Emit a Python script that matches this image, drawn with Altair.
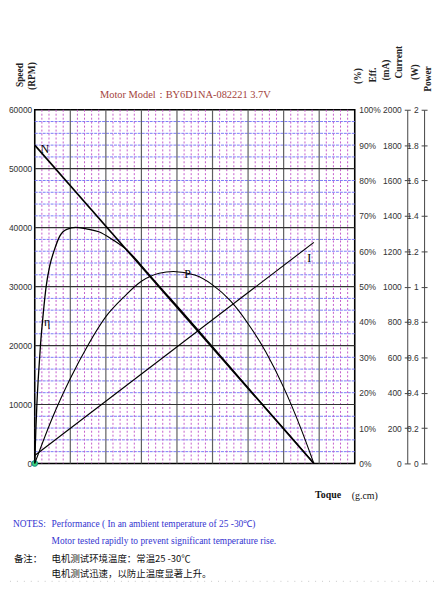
import altair as alt
import pandas as pd

# ---------------- values ----------------
speed_torque = [0.0, 7.85]
speed_rpm = [54000, 0]

eff_torque = [0, 0.03, 0.06, 0.1, 0.16, 0.24, 0.32, 0.42, 0.55, 0.7, 0.9, 1.15, 1.45, 1.8,
              2.2, 2.6, 2.95, 3.25, 3.6, 4.0, 4.5, 5.0, 5.5, 6.0, 6.5, 7.0, 7.5, 7.85]
eff_pct = [0, 9.2, 16.7, 24.2, 33.3, 42.5, 50.0, 55.8, 60.3, 64.2, 66.2, 66.75, 66.3, 65.5,
           63.2, 60.3, 56.5, 53.0, 49.0, 44.5, 38.8, 33.0, 27.2, 21.4, 15.6, 9.9, 4.1, 0]

power_torque = [0, 0.5, 1, 1.5, 2, 2.5, 3, 3.5, 3.9, 4.5, 5, 5.5, 6, 6.5, 7, 7.5, 7.85]
power_w = [0, 0.26, 0.48, 0.67, 0.83, 0.94, 1.03, 1.075, 1.085, 1.065, 1.01, 0.92, 0.79,
           0.63, 0.43, 0.19, 0]

current_torque = [0.0, 7.85]
current_ma = [45, 1250]

x_ticks = [0, 1, 2, 3, 4, 5, 6, 7, 8, 9]
rpm_ticks = [0, 10000, 20000, 30000, 40000, 50000, 60000]
pct_ticks = [0, 10, 20, 30, 40, 50, 60, 70, 80, 90, 100]
ma_ticks = [0, 200, 400, 600, 800, 1000, 1200, 1400, 1600, 1800, 2000]
w_ticks = [0, 0.2, 0.4, 0.6, 0.8, 1, 1.2, 1.4, 1.6, 1.8, 2]

grid_x_major = [1, 2, 3, 4, 5, 6, 7, 8]
grid_x_minor = [round(0.2 * k, 1) for k in range(1, 45) if k % 5 != 0]
grid_y_major = [10000, 20000, 30000, 40000, 50000]
grid_y_minor = [2000 * k for k in range(1, 30) if k % 5 != 0]

label_n = ("N", 0.28, 53400)
label_eta = ("η", 0.35, 40.1)
label_p = ("P", 4.3, 1.07)
label_i = ("I", 7.72, 1160)

title_text = "Motor Model：BY6D1NA-082221  3.7V"
notes_en = ["Performance ( In an ambient temperature of 25 -30℃)",
            "Motor tested rapidly to prevent significant temperature rise."]
notes_cn = ["电机测试环境温度：常温25 -30℃", "电机测试迅速，以防止温度显著上升。"]

# ---------------- styling ----------------
SANS = "Liberation Sans, Arial, sans-serif"
SERIF = "Liberation Serif, Times New Roman, serif"
CJK = "Noto Sans CJK SC"

X = alt.Scale(domain=[0, 9], nice=False, zero=False)
Y_RPM = alt.Scale(domain=[0, 60000], nice=False)
Y_PCT = alt.Scale(domain=[0, 100], nice=False)
Y_MA = alt.Scale(domain=[0, 2000], nice=False)
Y_W = alt.Scale(domain=[0, 2], nice=False)

common = dict(grid=False, title=None, labelFont=SANS, labelFontSize=8.5,
              labelColor="#333", labelFlush=False, labelOverlap=False)

x_noaxis = alt.X("t:Q", scale=X, axis=None)


def y_noaxis(scale):
    return alt.Y("v:Q", scale=scale, axis=None)


# ---------------- grid ----------------
h_minor = alt.Chart(pd.DataFrame({"v": grid_y_minor})).mark_rule(
    color="#7b7bf8", strokeWidth=1, strokeDash=[3, 1]
).encode(y=y_noaxis(Y_RPM))

v_minor = alt.Chart(pd.DataFrame({"t": grid_x_minor})).mark_rule(
    color="#c55ccb", strokeWidth=1, strokeDash=[2, 2]
).encode(x=x_noaxis)

v_major = alt.Chart(pd.DataFrame({"t": grid_x_major})).mark_rule(
    color="#5f5f5f", strokeWidth=1.2
).encode(x=x_noaxis)

h_major = alt.Chart(pd.DataFrame({"v": grid_y_major})).mark_rule(
    color="#333333", strokeWidth=1.2
).encode(y=y_noaxis(Y_RPM))

# ---------------- speed ----------------
speed_line = alt.Chart(pd.DataFrame({"t": speed_torque, "v": speed_rpm})).mark_line(
    color="black", strokeWidth=1.6
).encode(
    x=alt.X("t:Q", scale=X, axis=alt.Axis(values=x_ticks, ticks=False, domain=False,
                                           labelPadding=6, **common)),
    y=alt.Y("v:Q", scale=Y_RPM, axis=alt.Axis(orient="left", values=rpm_ticks, format="d",
                                               ticks=False, domain=False, labelPadding=3,
                                               **common)),
)


def curve_label(lab, scale):
    return alt.Chart(pd.DataFrame({"t": [lab[1]], "v": [lab[2]], "s": [lab[0]]})).mark_text(
        font=SERIF, fontSize=12, color="black"
    ).encode(x=x_noaxis, y=y_noaxis(scale), text="s:N")


n_text = curve_label(label_n, Y_RPM)

origin = alt.Chart(pd.DataFrame({"t": [0.0], "v": [0]})).mark_circle(
    size=34, color="#3ad17a", stroke="#178a8a", strokeWidth=1, opacity=1
).encode(x=x_noaxis, y=y_noaxis(Y_RPM))

# ---------------- efficiency ----------------
eff_line = alt.Chart(pd.DataFrame({"t": eff_torque, "v": eff_pct})).mark_line(
    color="black", strokeWidth=1.3, interpolate="monotone"
).encode(
    x=x_noaxis,
    y=alt.Y("v:Q", scale=Y_PCT, axis=alt.Axis(orient="right", values=pct_ticks,
                                               labelExpr="datum.value + '%'", ticks=False,
                                               domain=False, labelPadding=4, **common)),
)
eta_text = curve_label(label_eta, Y_PCT)

# ---------------- current ----------------
cur_line = alt.Chart(pd.DataFrame({"t": current_torque, "v": current_ma})).mark_line(
    color="black", strokeWidth=1.1
).encode(
    x=x_noaxis,
    y=alt.Y("v:Q", scale=Y_MA, axis=alt.Axis(orient="right", offset=53, values=ma_ticks,
                                              format="d", tickSize=3, tickColor="#444",
                                              domain=True, domainColor="#444",
                                              labelAlign="right", labelPadding=-9, **common)),
)
i_text = curve_label(label_i, Y_MA)

# ---------------- power ----------------
pow_line = alt.Chart(pd.DataFrame({"t": power_torque, "v": power_w})).mark_line(
    color="black", strokeWidth=1.1, interpolate="monotone"
).encode(
    x=x_noaxis,
    y=alt.Y("v:Q", scale=Y_W, axis=alt.Axis(orient="right", offset=70, values=w_ticks,
                                             format="~g", tickSize=3, tickColor="#444",
                                             domain=True, domainColor="#444",
                                             labelAlign="right", labelPadding=-9, **common)),
)
p_text = curve_label(label_p, Y_W)

# ---------------- tick stubs on the other side of the right axes ----------------
ma_stub = alt.Chart(pd.DataFrame({"v": [0, 2000]})).mark_point(opacity=0).encode(
    y=alt.Y("v:Q", scale=Y_MA, axis=alt.Axis(orient="left", offset=-376, values=ma_ticks,
                                              labels=False, tickSize=3, tickColor="#444",
                                              domain=False, grid=False, title=None)))
w_stub = alt.Chart(pd.DataFrame({"v": [0, 2]})).mark_point(opacity=0).encode(
    y=alt.Y("v:Q", scale=Y_W, axis=alt.Axis(orient="left", offset=-393, values=w_ticks,
                                             labels=False, tickSize=3, tickColor="#444",
                                             domain=False, grid=False, title=None)))

# ---------------- annotation texts ----------------
one = pd.DataFrame({"a": [0]})


def txt(s, x, y, **kw):
    return alt.Chart(one).mark_text(text=s, **kw).encode(x=alt.value(x), y=alt.value(y))


axis_title_style = dict(font=SERIF, fontSize=9.5, fontWeight="bold", color="#222",
                        angle=270, align="center", baseline="middle")

annotations = [
    txt(title_text, 152, -15, font=SERIF, fontSize=10.5, color="#a3423c",
        align="center", baseline="middle"),
    txt("Speed", -15, -35, **axis_title_style),
    txt("(RPM)", -3, -34, **axis_title_style),
    txt("(%)", 326, -34, **axis_title_style),
    txt("Eff.", 341, -35, **axis_title_style),
    txt("(mA)", 355, -40, **axis_title_style),
    txt("Current", 368, -48, **axis_title_style),
    txt("(W)", 384, -38, **axis_title_style),
    txt("Power", 397, -31, **axis_title_style),
    txt("Toque", 283, 389, font=SERIF, fontSize=10, fontWeight="bold", color="#111",
        align="left", baseline="middle"),
    txt("(g.cm)", 320, 390, font=SERIF, fontSize=10, color="#111",
        align="left", baseline="middle"),
    txt("NOTES:", -22, 418, font=SERIF, fontSize=9.5, color="#3434d0",
        align="left", baseline="middle"),
    txt(notes_en[0], 17, 418, font=SERIF, fontSize=9.5, color="#3434d0",
        align="left", baseline="middle"),
    txt(notes_en[1], 17, 435, font=SERIF, fontSize=9.5, color="#3434d0",
        align="left", baseline="middle"),
    txt("备注：", -21, 453, font=CJK, fontSize=9.5, color="#111",
        align="left", baseline="middle"),
    txt(notes_cn[0], 17, 453, font=CJK, fontSize=9.5, color="#111",
        align="left", baseline="middle"),
    txt(notes_cn[1], 17, 469, font=CJK, fontSize=9.5, color="#111",
        align="left", baseline="middle"),
    alt.Chart(one).mark_rule(color="#c8c8c8", strokeWidth=1, strokeDash=[1, 6]).encode(
        x=alt.value(-25), x2=alt.value(405), y=alt.value(476)),
]

chart = alt.layer(
    h_minor, v_minor, v_major, h_major,
    speed_line, n_text, origin,
    eff_line, eta_text,
    cur_line, i_text,
    pow_line, p_text,
    ma_stub, w_stub,
    *annotations
).resolve_scale(y="independent").resolve_axis(y="independent").properties(
    width=323, height=357,
    autosize=alt.AutoSizeParams(type="none"),
    padding={"left": 27, "top": 100, "right": 80, "bottom": 120},
).configure_view(stroke="black", strokeWidth=1.6)

chart.save("out.html", embed_options={"renderer": "svg", "actions": False})
